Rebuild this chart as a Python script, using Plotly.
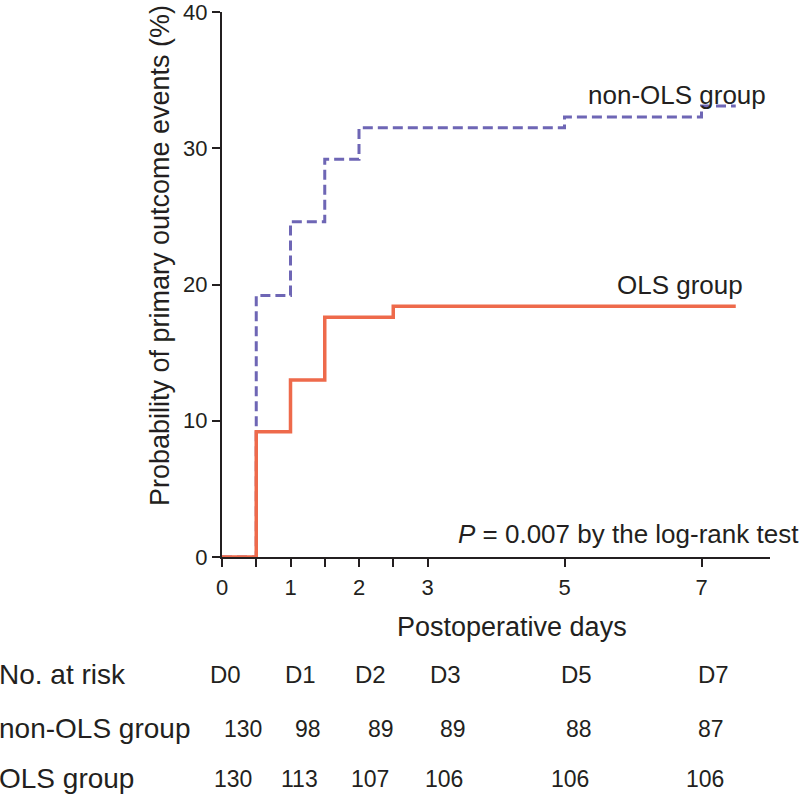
import plotly.graph_objects as go

# ---- data ----
days_non_ols = [0, 0.5, 1, 1.5, 2, 5, 7, 7.5]
prob_non_ols = [0, 19.2, 24.6, 29.2, 31.5, 32.3, 33.1, 33.1]

days_ols = [0, 0.5, 1, 1.5, 2.5, 7.5]
prob_ols = [0, 9.2, 13.0, 17.6, 18.4, 18.4]

x_tick_vals = [0, 0.5, 1, 1.5, 2, 2.5, 3, 5, 7]
x_tick_text = ["0", "", "1", "", "2", "", "3", "5", "7"]
y_tick_vals = [0, 10, 20, 30, 40]

risk_days = ["D0", "D1", "D2", "D3", "D5", "D7"]
risk_non_ols = [130, 98, 89, 89, 88, 87]
risk_ols = [130, 113, 107, 106, 106, 106]

FONT = "Liberation Sans, Arial, sans-serif"
TXT = "#231f20"
ORANGE = "#ee6a4b"
PURPLE = "#6e66b5"

fig = go.Figure()
fig.add_trace(go.Scatter(x=days_non_ols, y=prob_non_ols, mode="lines",
                         line=dict(shape="hv", color=PURPLE, width=3, dash="10px,5px"),
                         showlegend=False, cliponaxis=False))
fig.add_trace(go.Scatter(x=days_ols, y=prob_ols, mode="lines",
                         line=dict(shape="hv", color=ORANGE, width=3.5),
                         showlegend=False, cliponaxis=False))

ann = []
ann.append(dict(x=7.97, y=33.9, xref="x", yref="y", text="non-OLS group",
                xanchor="right", yanchor="middle", showarrow=False, font=dict(size=26)))
ann.append(dict(x=7.64, y=19.95, xref="x", yref="y", text="OLS group",
                xanchor="right", yanchor="middle", showarrow=False, font=dict(size=26)))
ann.append(dict(x=1.056, y=0.043, xref="paper", yref="paper",
                text="<i>P</i> = 0.007 by the log-rank test",
                xanchor="right", yanchor="middle", showarrow=False, font=dict(size=26)))

# axis titles (placed as annotations to match the reference offsets)
ann.append(dict(x=0.5296, y=-0.1279, xref="paper", yref="paper", text="Postoperative days",
                xanchor="center", yanchor="middle", showarrow=False, font=dict(size=27)))
ann.append(dict(x=-0.1144, y=0.5527, xref="paper", yref="paper",
                text="Probability of primary outcome events (%)", textangle=-90,
                xanchor="center", yanchor="middle", showarrow=False, font=dict(size=27)))

# number-at-risk table (layout positions in paper coords)
col_x = [0.006, 0.143, 0.271, 0.408, 0.647, 0.897]
row_y = [-0.2158, -0.3148, -0.4065]
label_x = -0.41
lab_font = dict(size=28)
num_font = dict(size=23)
ann.append(dict(x=label_x, y=row_y[0], xref="paper", yref="paper", text="No. at risk",
                xanchor="left", yanchor="middle", showarrow=False, font=lab_font))
ann.append(dict(x=label_x, y=row_y[1], xref="paper", yref="paper", text="non-OLS group",
                xanchor="left", yanchor="middle", showarrow=False, font=lab_font))
ann.append(dict(x=label_x, y=row_y[2], xref="paper", yref="paper", text="OLS group",
                xanchor="left", yanchor="middle", showarrow=False, font=lab_font))
non_shift = [18, 8, 10, 7, 2, -3]
ols_shift = [8, -1, -1, -2, -7, -9]
for i, d in enumerate(risk_days):
    ann.append(dict(x=col_x[i], y=row_y[0], xref="paper", yref="paper", text=d,
                    xanchor="center", yanchor="middle", showarrow=False, font=dict(size=24)))
    ann.append(dict(x=col_x[i], y=row_y[1], xref="paper", yref="paper", text=str(risk_non_ols[i]),
                    xanchor="center", yanchor="middle", showarrow=False, xshift=non_shift[i],
                    font=num_font))
    ann.append(dict(x=col_x[i], y=row_y[2], xref="paper", yref="paper", text=str(risk_ols[i]),
                    xanchor="center", yanchor="middle", showarrow=False, xshift=ols_shift[i],
                    font=num_font))

fig.update_layout(
    width=800, height=794,
    margin=dict(l=221.5, r=30, t=12, b=236.7, autoexpand=False),
    paper_bgcolor="white", plot_bgcolor="white",
    font=dict(family=FONT, size=25, color=TXT),
    annotations=ann,
    xaxis=dict(range=[0, 8], tickmode="array", tickvals=x_tick_vals, ticktext=x_tick_text,
               showline=True, linecolor=TXT, linewidth=2, ticks="outside", ticklen=8,
               tickwidth=2, tickcolor=TXT, showgrid=False, zeroline=False,
               ticklabeloverflow="allow", ticklabelstandoff=2,
               tickfont=dict(size=22)),
    yaxis=dict(range=[0, 40], tickmode="array", tickvals=y_tick_vals,
               showline=True, linecolor=TXT, linewidth=2, ticks="outside", ticklen=8,
               tickwidth=2, tickcolor=TXT, showgrid=False, zeroline=False,
               ticklabeloverflow="allow",
               tickfont=dict(size=22)),
)

fig.write_html("out.html", config={"displayModeBar": False},
               post_script="document.body.style.margin='0';document.body.style.overflow='hidden';")
